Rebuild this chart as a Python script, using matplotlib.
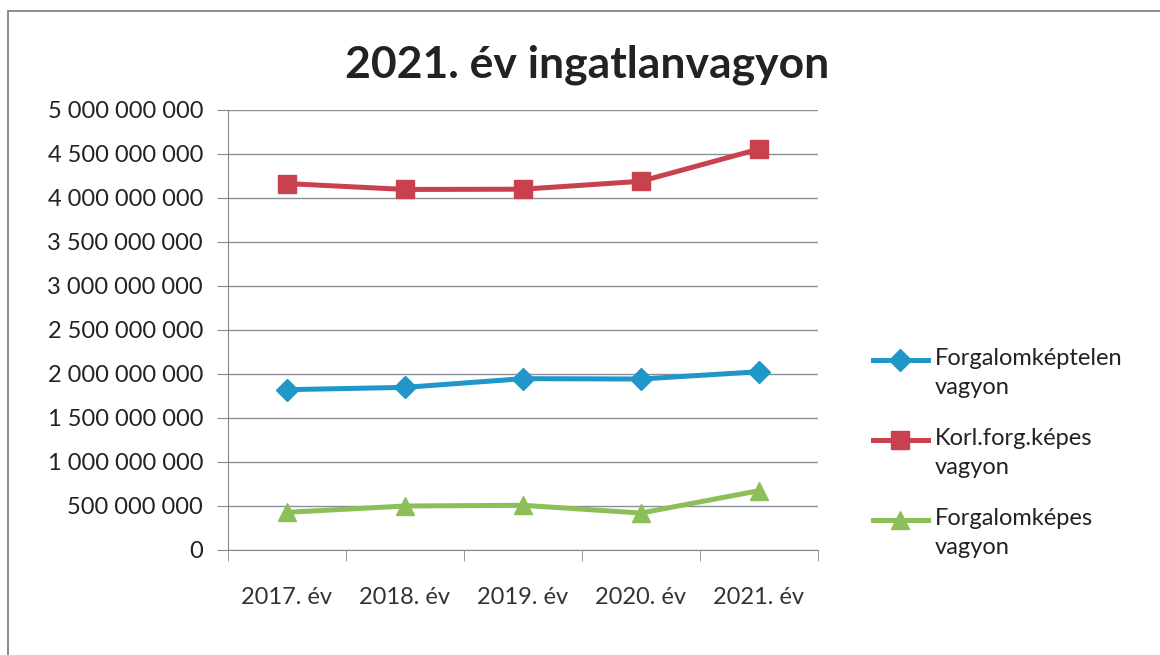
import numpy as np
import matplotlib.pyplot as plt
from matplotlib.ticker import FuncFormatter, MultipleLocator
from matplotlib.patches import Rectangle
from matplotlib.lines import Line2D

years = ['2017. év', '2018. év', '2019. év', '2020. év', '2021. év']
forgalomkeptelen = [1822e6, 1848e6, 1947e6, 1943e6, 2026e6]
korl_forg = [4164e6, 4097e6, 4100e6, 4190e6, 4556e6]
forgalomkepes = [428e6, 500e6, 508e6, 420e6, 674e6]

labels = ['Forgalomképtelen\nvagyon', 'Korl.forg.képes\nvagyon', 'Forgalomképes\nvagyon']
colors = ['#2196c8', '#c9404e', '#8cbf58']
markers = ['D', 's', '^']
msizes = [11, 13, 13]

plt.rcParams['font.family'] = ['Lato', 'DejaVu Sans']

W, H = 1160, 655
fig = plt.figure(figsize=(W / 100, H / 100), dpi=100)
ax = fig.add_axes([228 / W, 105 / H, 590 / W, 440 / H])

x = np.arange(len(years))
series = [forgalomkeptelen, korl_forg, forgalomkepes]
for vals, lab, c, m, ms in zip(series, labels, colors, markers, msizes):
    ax.plot(x, vals, color=c, lw=3.6, marker=m, markersize=ms,
            markeredgecolor=c, solid_joinstyle='round')

ax.set_xlim(-0.5, len(years) - 0.5)
ax.set_ylim(0, 5e9)
ax.yaxis.set_major_locator(MultipleLocator(5e8))
ax.yaxis.set_major_formatter(FuncFormatter(lambda v, p: f'{int(v):,}'.replace(',', ' ')))
ax.set_xticks(x)
ax.set_xticklabels(years)
ax.set_xticks(np.arange(-0.5, len(years)), minor=True)
ax.tick_params(axis='x', which='major', length=0, pad=27, labelsize=17, colors='#333333')
ax.tick_params(axis='x', which='minor', length=8, color='#888888')
ax.tick_params(axis='y', length=8, color='#888888', labelsize=17, labelcolor='#222222', pad=10)

ax.grid(axis='y', color='#8a8f99', lw=1)
ax.set_axisbelow(True)
for s in ['top', 'right']:
    ax.spines[s].set_visible(False)
for s in ['left', 'bottom']:
    ax.spines[s].set_color('#888888')

fig.text(587 / W, 1 - 65 / H, '2021. év ingatlanvagyon', ha='center', va='center',
         fontsize=32, fontweight='bold', color='#222222')

# legend drawn by hand so the symbol sits on the first text line
for i, (lab, c, m, ms) in enumerate(zip(labels, colors, markers, msizes)):
    y0 = 1 - (360 + 80 * i) / H
    fig.add_artist(Line2D([873 / W, 900 / W, 928 / W], [y0, y0, y0], color=c, lw=3.6,
                          marker=m, markersize=ms, markeredgecolor=c, markevery=[1],
                          transform=fig.transFigure))
    fig.text(935 / W, y0 + 12 / H, lab, ha='left', va='top', fontsize=17,
             color='#222222', linespacing=1.5)

fig.patches.append(Rectangle((8 / W, -0.1), 1.2, 1.1 - 11 / H, transform=fig.transFigure,
                             fill=False, edgecolor='#777777', lw=1.2))

fig.savefig('out.png', dpi=100)
